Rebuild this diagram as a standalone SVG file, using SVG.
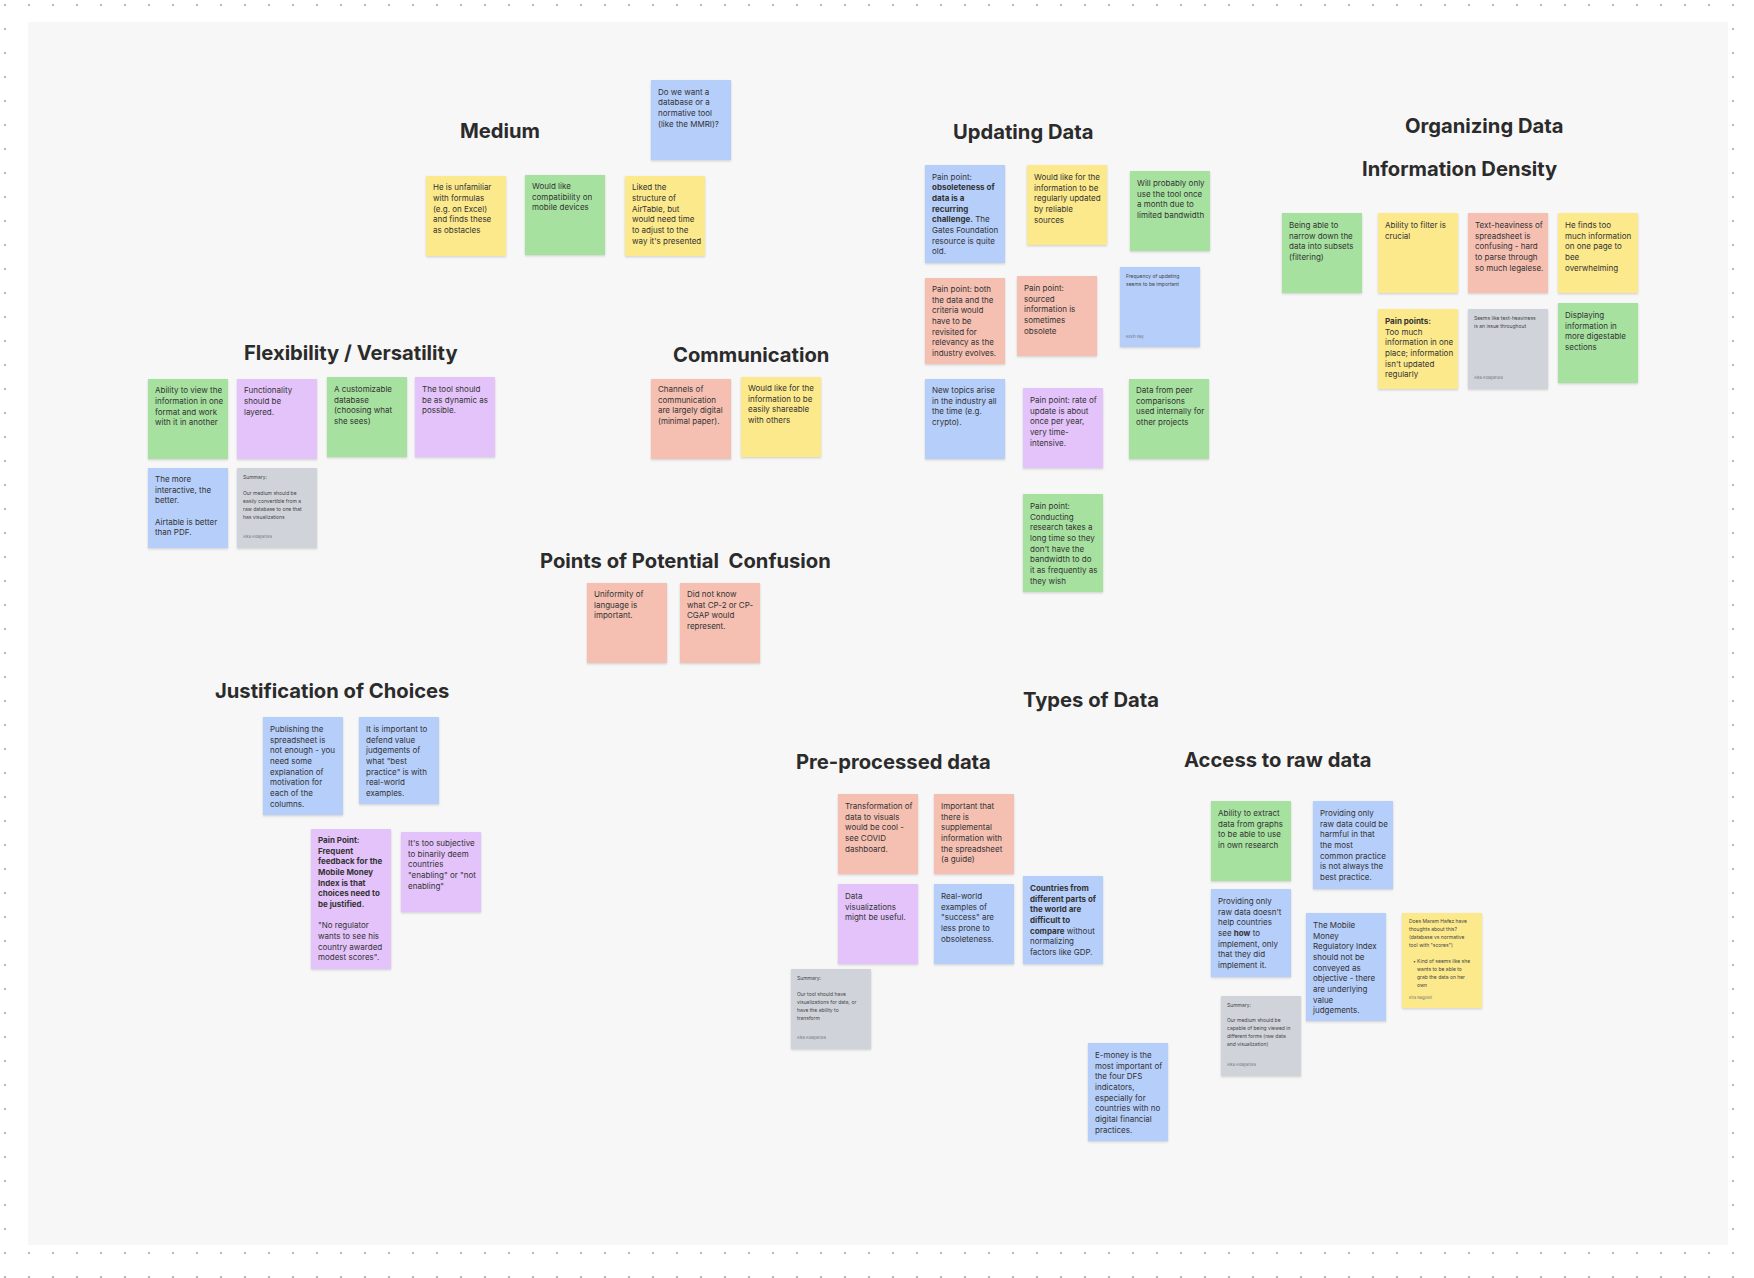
<svg xmlns="http://www.w3.org/2000/svg" width="1754" height="1278" viewBox="0 0 1754 1278">
<defs>
<pattern id="dots" x="0" y="0" width="24" height="24" patternUnits="userSpaceOnUse"><circle cx="5" cy="5" r="1.1" fill="#a8a8a8"/></pattern>
<filter id="sh" x="-10%" y="-10%" width="120%" height="125%"><feDropShadow dx="0" dy="1.2" stdDeviation="1.2" flood-color="#000" flood-opacity="0.16"/></filter>
<style>
.n{filter:url(#sh)}
.y{fill:#fce98b}.g{fill:#a7e1a0}.p{fill:#e4c3fa}.r{fill:#f5c0b1}.b{fill:#b6cefa}.s{fill:#d0d4da}
.t{font-family:Inter,"Liberation Sans",sans-serif;font-size:8px;fill:#333}
.b7{font-weight:700}
.h{font-family:Inter,"Liberation Sans",sans-serif;font-size:20.2px;font-weight:700;fill:#2b2b2b;white-space:pre}
.st{font-family:Inter,"Liberation Sans",sans-serif;font-size:5px;fill:#444}
.au{font-family:Inter,"Liberation Sans",sans-serif;font-size:3.8px;fill:#777}
</style>
</defs>
<rect width="1754" height="1278" fill="#ffffff"/>
<rect width="1754" height="1278" fill="url(#dots)"/>
<rect x="28" y="22" width="1700" height="1223" fill="#f7f7f7"/>

<g id="titles">
<text class="h" x="460" y="138">Medium</text>
<text class="h" x="244" y="360">Flexibility / Versatility</text>
<text class="h" x="673" y="362">Communication</text>
<text class="h" x="540" y="568">Points of Potential  Confusion</text>
<text class="h" x="953" y="139">Updating Data</text>
<text class="h" x="1405" y="133">Organizing Data</text>
<text class="h" x="1362" y="176">Information Density</text>
<text class="h" x="215" y="698">Justification of Choices</text>
<text class="h" x="1023" y="707">Types of Data</text>
<text class="h" x="796" y="769">Pre-processed data</text>
<text class="h" x="1184" y="767">Access to raw data</text>
</g>

<g id="connectors"></g>

<!-- Medium -->
<g id="med-db"><rect class="n b" x="651" y="80" width="80" height="80"/>
<text class="t" x="658" y="94.7"><tspan x="658">Do we want a</tspan><tspan x="658" dy="10.67">database or a</tspan><tspan x="658" dy="10.67">normative tool</tspan><tspan x="658" dy="10.67">(like the MMRI)?</tspan></text></g>
<g id="med-formulas"><rect class="n y" x="426" y="176" width="80" height="80"/>
<text class="t" x="433" y="190.3"><tspan x="433">He is unfamiliar</tspan><tspan x="433" dy="10.67">with formulas</tspan><tspan x="433" dy="10.67">(e.g. on Excel)</tspan><tspan x="433" dy="10.67">and finds these</tspan><tspan x="433" dy="10.67">as obstacles</tspan></text></g>
<g id="med-mobile"><rect class="n g" x="525" y="175" width="80" height="80"/>
<text class="t" x="532" y="189"><tspan x="532">Would like</tspan><tspan x="532" dy="10.67">compatibility on</tspan><tspan x="532" dy="10.67">mobile devices</tspan></text></g>
<g id="med-airtable"><rect class="n y" x="625" y="176" width="80" height="80"/>
<text class="t" x="632" y="190.3"><tspan x="632">Liked the</tspan><tspan x="632" dy="10.67">structure of</tspan><tspan x="632" dy="10.67">AirTable, but</tspan><tspan x="632" dy="10.67">would need time</tspan><tspan x="632" dy="10.67">to adjust to the</tspan><tspan x="632" dy="10.67">way it's presented</tspan></text></g>

<!-- Flexibility -->
<g id="flex-view"><rect class="n g" x="148" y="379" width="80" height="80"/>
<text class="t" x="155" y="393.3"><tspan x="155">Ability to view the</tspan><tspan x="155" dy="10.67">information in one</tspan><tspan x="155" dy="10.67">format and work</tspan><tspan x="155" dy="10.67">with it in another</tspan></text></g>
<g id="flex-layered"><rect class="n p" x="237" y="379" width="80" height="80"/>
<text class="t" x="244" y="393.3"><tspan x="244">Functionality</tspan><tspan x="244" dy="10.67">should be</tspan><tspan x="244" dy="10.67">layered.</tspan></text></g>
<g id="flex-custom"><rect class="n g" x="327" y="377" width="80" height="80"/>
<text class="t" x="334" y="392"><tspan x="334">A customizable</tspan><tspan x="334" dy="10.67">database</tspan><tspan x="334" dy="10.67">(choosing what</tspan><tspan x="334" dy="10.67">she sees)</tspan></text></g>
<g id="flex-dynamic"><rect class="n p" x="415" y="377" width="80" height="80"/>
<text class="t" x="422" y="392"><tspan x="422">The tool should</tspan><tspan x="422" dy="10.67">be as dynamic as</tspan><tspan x="422" dy="10.67">possible.</tspan></text></g>
<g id="flex-interactive"><rect class="n b" x="148" y="468" width="80" height="80"/>
<text class="t" x="155" y="482"><tspan x="155">The more</tspan><tspan x="155" dy="10.67">interactive, the</tspan><tspan x="155" dy="10.67">better.</tspan><tspan x="155" dy="21.34">Airtable is better</tspan><tspan x="155" dy="10.67">than PDF.</tspan></text></g>
<g id="flex-summary"><rect class="n s" x="237" y="468" width="80" height="80"/>
<text class="st" x="243" y="479"><tspan x="243">Summary:</tspan><tspan x="243" dy="16">Our medium should be</tspan><tspan x="243" dy="8">easily convertible from a</tspan><tspan x="243" dy="8">raw database to one that</tspan><tspan x="243" dy="8">has visualizations</tspan></text>
<text class="au" x="243" y="538">Aika Aldayarova</text></g>

<!-- Communication -->
<g id="com-channels"><rect class="n r" x="651" y="379" width="80" height="80"/>
<text class="t" x="658" y="392"><tspan x="658">Channels of</tspan><tspan x="658" dy="10.67">communication</tspan><tspan x="658" dy="10.67">are largely digital</tspan><tspan x="658" dy="10.67">(minimal paper).</tspan></text></g>
<g id="com-share"><rect class="n y" x="741" y="377" width="80" height="80"/>
<text class="t" x="748" y="391"><tspan x="748">Would like for the</tspan><tspan x="748" dy="10.67">information to be</tspan><tspan x="748" dy="10.67">easily shareable</tspan><tspan x="748" dy="10.67">with others</tspan></text></g>

<!-- Points of confusion -->
<g id="conf-language"><rect class="n r" x="587" y="583" width="80" height="80"/>
<text class="t" x="594" y="597"><tspan x="594">Uniformity of</tspan><tspan x="594" dy="10.67">language is</tspan><tspan x="594" dy="10.67">important.</tspan></text></g>
<g id="conf-cp2"><rect class="n r" x="680" y="583" width="80" height="80"/>
<text class="t" x="687" y="597"><tspan x="687">Did not know</tspan><tspan x="687" dy="10.67">what CP-2 or CP-</tspan><tspan x="687" dy="10.67">CGAP would</tspan><tspan x="687" dy="10.67">represent.</tspan></text></g>

<!-- Updating Data -->
<g id="upd-obsolete"><rect class="n b" x="925" y="165" width="80" height="98"/>
<text class="t" x="932" y="179.7"><tspan x="932">Pain point:</tspan><tspan x="932" dy="10.67" class="b7">obsoleteness of</tspan><tspan x="932" dy="10.67" class="b7">data is a</tspan><tspan x="932" dy="10.67" class="b7">recurring</tspan><tspan x="932" dy="10.67" class="b7">challenge.</tspan><tspan> The</tspan><tspan x="932" dy="10.67">Gates Foundation</tspan><tspan x="932" dy="10.67">resource is quite</tspan><tspan x="932" dy="10.67">old.</tspan></text></g>
<g id="upd-regular"><rect class="n y" x="1027" y="165" width="80" height="80"/>
<text class="t" x="1034" y="180"><tspan x="1034">Would like for the</tspan><tspan x="1034" dy="10.67">information to be</tspan><tspan x="1034" dy="10.67">regularly updated</tspan><tspan x="1034" dy="10.67">by reliable</tspan><tspan x="1034" dy="10.67">sources</tspan></text></g>
<g id="upd-monthly"><rect class="n g" x="1130" y="171" width="80" height="80"/>
<text class="t" x="1137" y="186"><tspan x="1137">Will probably only</tspan><tspan x="1137" dy="10.67">use the tool once</tspan><tspan x="1137" dy="10.67">a month due to</tspan><tspan x="1137" dy="10.67">limited bandwidth</tspan></text></g>
<g id="upd-criteria"><rect class="n r" x="925" y="278" width="80" height="86"/>
<text class="t" x="932" y="292"><tspan x="932">Pain point: both</tspan><tspan x="932" dy="10.67">the data and the</tspan><tspan x="932" dy="10.67">criteria would</tspan><tspan x="932" dy="10.67">have to be</tspan><tspan x="932" dy="10.67">revisited for</tspan><tspan x="932" dy="10.67">relevancy as the</tspan><tspan x="932" dy="10.67">industry evolves.</tspan></text></g>
<g id="upd-sourced"><rect class="n r" x="1017" y="276" width="80" height="80"/>
<text class="t" x="1024" y="291"><tspan x="1024">Pain point:</tspan><tspan x="1024" dy="10.67">sourced</tspan><tspan x="1024" dy="10.67">information is</tspan><tspan x="1024" dy="10.67">sometimes</tspan><tspan x="1024" dy="10.67">obsolete</tspan></text></g>
<g id="upd-frequency"><rect class="n b" x="1120" y="267" width="80" height="80"/>
<text class="st" x="1126" y="278"><tspan x="1126">Frequency of updating</tspan><tspan x="1126" dy="8">seems to be important</tspan></text>
<text class="au" x="1126" y="338">Kevin Ray</text></g>
<g id="upd-topics"><rect class="n b" x="925" y="379" width="80" height="80"/>
<text class="t" x="932" y="393"><tspan x="932">New topics arise</tspan><tspan x="932" dy="10.67">in the industry all</tspan><tspan x="932" dy="10.67">the time (e.g.</tspan><tspan x="932" dy="10.67">crypto).</tspan></text></g>
<g id="upd-rate"><rect class="n p" x="1023" y="388" width="80" height="80"/>
<text class="t" x="1030" y="403"><tspan x="1030">Pain point: rate of</tspan><tspan x="1030" dy="10.67">update is about</tspan><tspan x="1030" dy="10.67">once per year,</tspan><tspan x="1030" dy="10.67">very time-</tspan><tspan x="1030" dy="10.67">intensive.</tspan></text></g>
<g id="upd-peer"><rect class="n g" x="1129" y="379" width="80" height="80"/>
<text class="t" x="1136" y="393"><tspan x="1136">Data from peer</tspan><tspan x="1136" dy="10.67">comparisons</tspan><tspan x="1136" dy="10.67">used internally for</tspan><tspan x="1136" dy="10.67">other projects</tspan></text></g>
<g id="upd-research"><rect class="n g" x="1023" y="494" width="80" height="98"/>
<text class="t" x="1030" y="509"><tspan x="1030">Pain point:</tspan><tspan x="1030" dy="10.67">Conducting</tspan><tspan x="1030" dy="10.67">research takes a</tspan><tspan x="1030" dy="10.67">long time so they</tspan><tspan x="1030" dy="10.67">don't have the</tspan><tspan x="1030" dy="10.67">bandwidth to do</tspan><tspan x="1030" dy="10.67">it as frequently as</tspan><tspan x="1030" dy="10.67">they wish</tspan></text></g>

<!-- Organizing Data -->
<g id="org-narrow"><rect class="n g" x="1282" y="213" width="80" height="80"/>
<text class="t" x="1289" y="228"><tspan x="1289">Being able to</tspan><tspan x="1289" dy="10.67">narrow down the</tspan><tspan x="1289" dy="10.67">data into subsets</tspan><tspan x="1289" dy="10.67">(filtering)</tspan></text></g>
<g id="org-filter"><rect class="n y" x="1378" y="213" width="80" height="80"/>
<text class="t" x="1385" y="228"><tspan x="1385">Ability to filter is</tspan><tspan x="1385" dy="10.67">crucial</tspan></text></g>
<g id="org-text"><rect class="n r" x="1468" y="213" width="80" height="80"/>
<text class="t" x="1475" y="228"><tspan x="1475">Text-heaviness of</tspan><tspan x="1475" dy="10.67">spreadsheet is</tspan><tspan x="1475" dy="10.67">confusing - hard</tspan><tspan x="1475" dy="10.67">to parse through</tspan><tspan x="1475" dy="10.67">so much legalese.</tspan></text></g>
<g id="org-toomuch"><rect class="n y" x="1558" y="213" width="80" height="80"/>
<text class="t" x="1565" y="228"><tspan x="1565">He finds too</tspan><tspan x="1565" dy="10.67">much information</tspan><tspan x="1565" dy="10.67">on one page to</tspan><tspan x="1565" dy="10.67">bee</tspan><tspan x="1565" dy="10.67">overwhelming</tspan></text></g>
<g id="org-pain"><rect class="n y" x="1378" y="309" width="80" height="80"/>
<text class="t" x="1385" y="324"><tspan x="1385" class="b7">Pain points:</tspan><tspan x="1385" dy="10.67">Too much</tspan><tspan x="1385" dy="10.67">information in one</tspan><tspan x="1385" dy="10.67">place; information</tspan><tspan x="1385" dy="10.67">isn't updated</tspan><tspan x="1385" dy="10.67">regularly</tspan></text></g>
<g id="org-seems"><rect class="n s" x="1468" y="309" width="80" height="80"/>
<text class="st" x="1474" y="320"><tspan x="1474">Seems like text-heaviness</tspan><tspan x="1474" dy="8">is an issue throughout</tspan></text>
<text class="au" x="1474" y="379">Aika Aldayarova</text></g>
<g id="org-digest"><rect class="n g" x="1558" y="303" width="80" height="80"/>
<text class="t" x="1565" y="318"><tspan x="1565">Displaying</tspan><tspan x="1565" dy="10.67">information in</tspan><tspan x="1565" dy="10.67">more digestable</tspan><tspan x="1565" dy="10.67">sections</tspan></text></g>

<!-- Justification -->
<g id="jus-publish"><rect class="n b" x="263" y="717" width="80" height="98"/>
<text class="t" x="270" y="732"><tspan x="270">Publishing the</tspan><tspan x="270" dy="10.67">spreadsheet is</tspan><tspan x="270" dy="10.67">not enough - you</tspan><tspan x="270" dy="10.67">need some</tspan><tspan x="270" dy="10.67">explanation of</tspan><tspan x="270" dy="10.67">motivation for</tspan><tspan x="270" dy="10.67">each of the</tspan><tspan x="270" dy="10.67">columns.</tspan></text></g>
<g id="jus-defend"><rect class="n b" x="359" y="717" width="80" height="87"/>
<text class="t" x="366" y="732"><tspan x="366">It is important to</tspan><tspan x="366" dy="10.67">defend value</tspan><tspan x="366" dy="10.67">judgements of</tspan><tspan x="366" dy="10.67">what "best</tspan><tspan x="366" dy="10.67">practice" is with</tspan><tspan x="366" dy="10.67">real-world</tspan><tspan x="366" dy="10.67">examples.</tspan></text></g>
<g id="jus-feedback"><rect class="n p" x="311" y="829" width="80" height="140"/>
<text class="t" x="318" y="843"><tspan x="318" class="b7">Pain Point:</tspan><tspan x="318" dy="10.67" class="b7">Frequent</tspan><tspan x="318" dy="10.67" class="b7">feedback for the</tspan><tspan x="318" dy="10.67" class="b7">Mobile Money</tspan><tspan x="318" dy="10.67" class="b7">Index is that</tspan><tspan x="318" dy="10.67" class="b7">choices need to</tspan><tspan x="318" dy="10.67" class="b7">be justified.</tspan><tspan x="318" dy="21.34">"No regulator</tspan><tspan x="318" dy="10.67">wants to see his</tspan><tspan x="318" dy="10.67">country awarded</tspan><tspan x="318" dy="10.67">modest scores".</tspan></text></g>
<g id="jus-subjective"><rect class="n p" x="401" y="832" width="80" height="80"/>
<text class="t" x="408" y="846"><tspan x="408">It's too subjective</tspan><tspan x="408" dy="10.67">to binarily deem</tspan><tspan x="408" dy="10.67">countries</tspan><tspan x="408" dy="10.67">"enabling" or "not</tspan><tspan x="408" dy="10.67">enabling"</tspan></text></g>

<!-- Pre-processed data -->
<g id="pre-visuals"><rect class="n r" x="838" y="794" width="80" height="80"/>
<text class="t" x="845" y="809"><tspan x="845">Transformation of</tspan><tspan x="845" dy="10.67">data to visuals</tspan><tspan x="845" dy="10.67">would be cool -</tspan><tspan x="845" dy="10.67">see COVID</tspan><tspan x="845" dy="10.67">dashboard.</tspan></text></g>
<g id="pre-guide"><rect class="n r" x="934" y="794" width="80" height="80"/>
<text class="t" x="941" y="809"><tspan x="941">Important that</tspan><tspan x="941" dy="10.67">there is</tspan><tspan x="941" dy="10.67">supplemental</tspan><tspan x="941" dy="10.67">information with</tspan><tspan x="941" dy="10.67">the spreadsheet</tspan><tspan x="941" dy="10.67">(a guide)</tspan></text></g>
<g id="pre-dataviz"><rect class="n p" x="838" y="884" width="80" height="80"/>
<text class="t" x="845" y="899"><tspan x="845">Data</tspan><tspan x="845" dy="10.67">visualizations</tspan><tspan x="845" dy="10.67">might be useful.</tspan></text></g>
<g id="pre-success"><rect class="n b" x="934" y="884" width="80" height="80"/>
<text class="t" x="941" y="899"><tspan x="941">Real-world</tspan><tspan x="941" dy="10.67">examples of</tspan><tspan x="941" dy="10.67">"success" are</tspan><tspan x="941" dy="10.67">less prone to</tspan><tspan x="941" dy="10.67">obsoleteness.</tspan></text></g>
<g id="pre-countries"><rect class="n b" x="1023" y="876" width="80" height="88"/>
<text class="t" x="1030" y="891"><tspan x="1030" class="b7">Countries from</tspan><tspan x="1030" dy="10.67" class="b7">different parts of</tspan><tspan x="1030" dy="10.67" class="b7">the world are</tspan><tspan x="1030" dy="10.67" class="b7">difficult to</tspan><tspan x="1030" dy="10.67" class="b7">compare</tspan><tspan> without</tspan><tspan x="1030" dy="10.67">normalizing</tspan><tspan x="1030" dy="10.67">factors like GDP.</tspan></text></g>
<g id="pre-summary"><rect class="n s" x="791" y="969" width="80" height="80"/>
<text class="st" x="797" y="980"><tspan x="797">Summary:</tspan><tspan x="797" dy="16">Our tool should have</tspan><tspan x="797" dy="8">visualizations for data, or</tspan><tspan x="797" dy="8">have the ability to</tspan><tspan x="797" dy="8">transform</tspan></text>
<text class="au" x="797" y="1039">Aika Aldayarova</text></g>
<g id="emoney"><rect class="n b" x="1088" y="1043" width="80" height="98"/>
<text class="t" x="1095" y="1058"><tspan x="1095">E-money is the</tspan><tspan x="1095" dy="10.67">most important of</tspan><tspan x="1095" dy="10.67">the four DFS</tspan><tspan x="1095" dy="10.67">indicators,</tspan><tspan x="1095" dy="10.67">especially for</tspan><tspan x="1095" dy="10.67">countries with no</tspan><tspan x="1095" dy="10.67">digital financial</tspan><tspan x="1095" dy="10.67">practices.</tspan></text></g>

<!-- Access to raw data -->
<g id="raw-extract"><rect class="n g" x="1211" y="801" width="80" height="80"/>
<text class="t" x="1218" y="816"><tspan x="1218">Ability to extract</tspan><tspan x="1218" dy="10.67">data from graphs</tspan><tspan x="1218" dy="10.67">to be able to use</tspan><tspan x="1218" dy="10.67">in own research</tspan></text></g>
<g id="raw-harmful"><rect class="n b" x="1313" y="801" width="80" height="88"/>
<text class="t" x="1320" y="816"><tspan x="1320">Providing only</tspan><tspan x="1320" dy="10.67">raw data could be</tspan><tspan x="1320" dy="10.67">harmful in that</tspan><tspan x="1320" dy="10.67">the most</tspan><tspan x="1320" dy="10.67">common practice</tspan><tspan x="1320" dy="10.67">is not always the</tspan><tspan x="1320" dy="10.67">best practice.</tspan></text></g>
<g id="raw-how"><rect class="n b" x="1211" y="889" width="80" height="88"/>
<text class="t" x="1218" y="904"><tspan x="1218">Providing only</tspan><tspan x="1218" dy="10.67">raw data doesn't</tspan><tspan x="1218" dy="10.67">help countries</tspan><tspan x="1218" dy="10.67">see </tspan><tspan class="b7">how</tspan><tspan> to</tspan><tspan x="1218" dy="10.67">implement, only</tspan><tspan x="1218" dy="10.67">that they did</tspan><tspan x="1218" dy="10.67">implement it.</tspan></text></g>
<g id="raw-mmri"><rect class="n b" x="1306" y="913" width="80" height="108"/>
<text class="t" x="1313" y="928"><tspan x="1313">The Mobile</tspan><tspan x="1313" dy="10.67">Money</tspan><tspan x="1313" dy="10.67">Regulatory Index</tspan><tspan x="1313" dy="10.67">should not be</tspan><tspan x="1313" dy="10.67">conveyed as</tspan><tspan x="1313" dy="10.67">objective - there</tspan><tspan x="1313" dy="10.67">are underlying</tspan><tspan x="1313" dy="10.67">value</tspan><tspan x="1313" dy="10.67">judgements.</tspan></text></g>
<g id="raw-maram"><rect class="n y" x="1402" y="913" width="80" height="95"/>
<text class="st" x="1409" y="923"><tspan x="1409">Does Maram Hafez have</tspan><tspan x="1409" dy="8">thoughts about this?</tspan><tspan x="1409" dy="8">(database vs normative</tspan><tspan x="1409" dy="8">tool with "scores")</tspan></text>
<text class="st" x="1413" y="963"><tspan x="1413">•</tspan><tspan x="1417">Kind of seems like she</tspan><tspan x="1417" dy="8">wants to be able to</tspan><tspan x="1417" dy="8">grab the data on her</tspan><tspan x="1417" dy="8">own</tspan></text>
<text class="au" x="1409" y="999">Kira Nagoshi</text></g>
<g id="raw-summary"><rect class="n s" x="1221" y="996" width="80" height="80"/>
<text class="st" x="1227" y="1007"><tspan x="1227">Summary:</tspan><tspan x="1227" dy="15">Our medium should be</tspan><tspan x="1227" dy="8">capable of being viewed in</tspan><tspan x="1227" dy="8">different forms (raw data</tspan><tspan x="1227" dy="8">and visualization)</tspan></text>
<text class="au" x="1227" y="1066">Aika Aldayarova</text></g>
</svg>
